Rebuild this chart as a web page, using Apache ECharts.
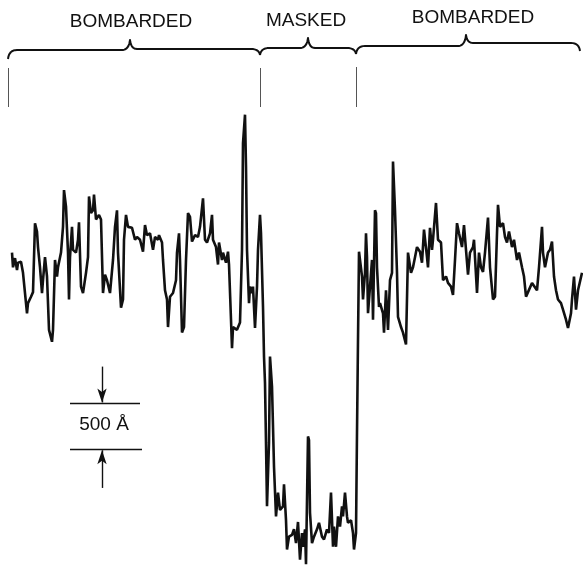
<!DOCTYPE html>
<html>
<head>
<meta charset="utf-8">
<title>surface profile</title>
<script src="https://cdn.jsdelivr.net/npm/echarts@6/dist/echarts.min.js"></script>
<style>
  html, body { margin: 0; padding: 0; background: #fff; }
  #profile { width: 583px; height: 567px; }
</style>
</head>
<body>
<div id="profile"></div>
<script>
// position along the scan (1 unit ~ 1 px of the original trace)
var traceX = [
  12, 13, 15, 17, 18, 21, 23, 25, 27, 28, 31, 33, 35, 37, 38, 40, 42, 43, 45, 47,
  49, 52, 53, 55, 57, 58, 61, 63, 64, 66, 68, 69, 70, 72, 73, 76, 78, 79, 81, 83,
  86, 88, 89, 91, 93, 94, 96, 99, 101, 103, 105, 107, 110, 113, 115, 117, 118, 121, 123, 124,
  126, 128, 132, 135, 137, 140, 143, 145, 147, 150, 153, 155, 158, 159, 162, 163, 165, 167, 168, 170,
  173, 176, 177, 179, 180, 182, 184, 186, 188, 190, 192, 195, 198, 200, 203, 205, 207, 210, 212, 213,
  216, 218, 219, 222, 223, 226, 228, 229, 231, 232, 233, 237, 240, 242, 243, 245, 246, 247, 249, 250,
  252, 253, 255, 257, 258, 260, 261, 263, 264, 265, 266, 267, 269, 270, 272, 273, 274, 276, 278, 280,
  283, 284, 286, 287, 289, 292, 294, 296, 298, 300, 302, 303, 305, 306, 308, 309, 310, 312, 314, 317,
  319, 322, 324, 327, 329, 331, 333, 334, 336, 338, 340, 342, 343, 345, 347, 348, 351, 353, 354, 356,
  357, 358, 359, 361, 362, 363, 365, 366, 367, 368, 370, 372, 373, 375, 376, 377, 379, 380, 383, 384,
  386, 388, 390, 392, 393, 395, 397, 398, 401, 403, 406, 408, 411, 413, 415, 417, 420, 422, 424, 427,
  428, 430, 432, 433, 436, 438, 441, 443, 446, 448, 451, 453, 455, 457, 459, 462, 464, 466, 468, 470,
  473, 474, 477, 479, 481, 483, 485, 488, 490, 493, 495, 497, 498, 500, 503, 505, 507, 509, 512, 514,
  517, 519, 522, 524, 526, 528, 532, 534, 537, 539, 542, 543, 545, 548, 550, 552, 554, 556, 558, 561,
  563, 566, 568, 571, 572, 574, 576, 578, 582
];
// surface height in angstrom
var traceHeight = [
  3340, 3180, 3280, 3150, 3230, 3240, 3120, 2900, 2680, 2790, 2860, 2910, 3660, 3570, 3400, 3180, 2900, 3040, 3290, 3080,
  2500, 2370, 2500, 3260, 3080, 3180, 3340, 3620, 4020, 3840, 3340, 2830, 3290, 3620, 3370, 3340, 3480, 3670, 2970, 2900,
  3120, 3290, 3950, 3770, 3800, 3970, 3700, 3750, 3700, 2900, 3100, 3040, 2900, 3260, 3620, 3800, 3340, 2740, 2830, 3480,
  3750, 3620, 3610, 3480, 3510, 3480, 3350, 3640, 3530, 3550, 3370, 3510, 3480, 3530, 3450, 3260, 2930, 2830, 2530, 2860,
  2900, 3040, 3340, 3550, 3260, 2470, 2530, 3260, 3770, 3730, 3460, 3530, 3510, 3620, 3930, 3480, 3450, 3550, 3750, 3480,
  3400, 3210, 3450, 3260, 3340, 3230, 3350, 3210, 2610, 2300, 2530, 2500, 2580, 3370, 4530, 4840, 4270, 3370, 2790, 2970,
  2900, 2970, 2520, 2970, 3370, 3750, 3550, 2750, 2210, 1920, 1270, 580, 1270, 2210, 1880, 1450, 1010, 470, 730, 540,
  580, 820, 430, 110, 250, 270, 330, 180, 410, 0, 290, 140, 330, -50, 1340, 1300, 510, 180, 250, 330,
  400, 250, 220, 330, 290, 730, 140, 360, 140, 470, 360, 580, 470, 730, 470, 400, 430, 290, 110, 290,
  1380, 2390, 3350, 3340, 3080, 2830, 3120, 3550, 3290, 2680, 2970, 3260, 2610, 3800, 3770, 3180, 2750, 2790, 2680, 2470,
  2930, 2500, 3040, 3120, 4330, 3800, 3120, 2640, 2530, 2470, 2340, 3340, 3120, 3180, 3290, 3400, 3350, 3230, 3590, 3290,
  3180, 3610, 3370, 3480, 3880, 3480, 3450, 3040, 3080, 3010, 2970, 2880, 3260, 3660, 3550, 3400, 3640, 3370, 3100, 3340,
  3400, 3480, 2900, 3340, 3180, 3130, 3340, 3720, 3180, 2830, 2860, 3550, 3860, 3620, 3660, 3510, 3450, 3570, 3400, 3480,
  3260, 3340, 3180, 3080, 2860, 2910, 3010, 3020, 2930, 3180, 3620, 3340, 3180, 3340, 3370, 3460, 3080, 2930, 2830, 2790,
  2720, 2610, 2520, 2680, 2830, 3080, 2720, 2930, 3120
];
var regionLabels = ['BOMBARDED', 'MASKED', 'BOMBARDED'];
var scaleBarLow = 1200;   // the two bar lines are 500 Å apart
var scaleBarHigh = 1700;
var scaleBarText = '500 Å';

var chart = echarts.init(document.getElementById('profile'));

var points = traceX.map(function (x, i) { return [x, traceHeight[i]]; });

var ink = '#111';
var labelFont = { fontFamily: 'Liberation Sans', fontSize: 19, fill: ink };

// quadratic curve sampled into points
function quad(p0, c, p1) {
  var out = [];
  for (var t = 0; t <= 1.0001; t += 0.125) {
    var a = (1 - t) * (1 - t), b = 2 * (1 - t) * t, d = t * t;
    out.push([a * p0[0] + b * c[0] + d * p1[0], a * p0[1] + b * c[1] + d * p1[1]]);
  }
  return out;
}
// curly brace: ends curl down, tip points up
function brace(xl, yl, xt, yt, xr, yr, yLeft, yRight) {
  var pts = [];
  pts = pts.concat(quad([xl, yl], [xl + 1, yLeft], [xl + 9, yLeft]));
  pts = pts.concat(quad([xt - 7, yLeft], [xt - 1, yLeft - 1], [xt, yt]));
  pts = pts.concat(quad([xt, yt], [xt + 1, yRight], [xt + 7, yRight]));
  pts = pts.concat(quad([xr - 9, yRight], [xr - 1, yRight], [xr, yr]));
  return {
    type: 'polyline',
    shape: { points: pts },
    style: { fill: null, stroke: ink, lineWidth: 2, lineJoin: 'round' }
  };
}

var option = {
  animation: false,
  backgroundColor: '#fff',
  grid: { left: 0, right: 0, top: 100, bottom: 0 },
  xAxis: { type: 'value', min: 0, max: 583, show: false },
  yAxis: { type: 'value', min: -80, max: 5000, show: false },
  series: [
    {
      type: 'line',
      data: points,
      showSymbol: false,
      lineStyle: { color: ink, width: 2.6 },
      markLine: {
        silent: true,
        animation: false,
        label: { show: false },
        lineStyle: { color: ink, width: 1.4, type: 'solid' },
        symbol: 'none',
        data: [
          [{ coord: [70, scaleBarHigh] }, { coord: [140, scaleBarHigh] }],
          [{ coord: [70, scaleBarLow] }, { coord: [142, scaleBarLow] }],
          [{ coord: [102, scaleBarHigh + 400], symbol: 'none' },
           { coord: [102, scaleBarHigh + 10], symbol: 'arrow', symbolSize: [7, 14] }],
          [{ coord: [102, scaleBarLow - 420], symbol: 'none' },
           { coord: [102, scaleBarLow - 10], symbol: 'arrow', symbolSize: [7, 14] }]
        ]
      }
    }
  ],
  graphic: [
    // region labels
    { type: 'text', x: 131, y: 22, style: Object.assign({ text: regionLabels[0], align: 'center', verticalAlign: 'middle' }, labelFont) },
    { type: 'text', x: 306, y: 21, style: Object.assign({ text: regionLabels[1], align: 'center', verticalAlign: 'middle' }, labelFont) },
    { type: 'text', x: 473, y: 18, style: Object.assign({ text: regionLabels[2], align: 'center', verticalAlign: 'middle' }, labelFont) },
    // braces
    brace(8, 59, 130, 40, 260, 55, 50, 49),
    brace(260, 55, 308, 38, 356, 54, 48, 48),
    brace(356, 54, 466, 35, 580, 51, 46, 43),
    // region edges
    { type: 'line', shape: { x1: 8.5, y1: 68, x2: 8.5, y2: 107 }, style: { stroke: '#555', lineWidth: 1 } },
    { type: 'line', shape: { x1: 260.5, y1: 68, x2: 260.5, y2: 107 }, style: { stroke: '#555', lineWidth: 1 } },
    { type: 'line', shape: { x1: 356.5, y1: 67, x2: 356.5, y2: 107 }, style: { stroke: '#555', lineWidth: 1 } },
    // scale bar text
    { type: 'text', x: 104, y: 425, style: { text: scaleBarText, align: 'center', verticalAlign: 'middle',
      fontFamily: 'Liberation Sans', fontSize: 19, fill: ink } }
  ]
};

chart.setOption(option);
</script>
</body>
</html>
